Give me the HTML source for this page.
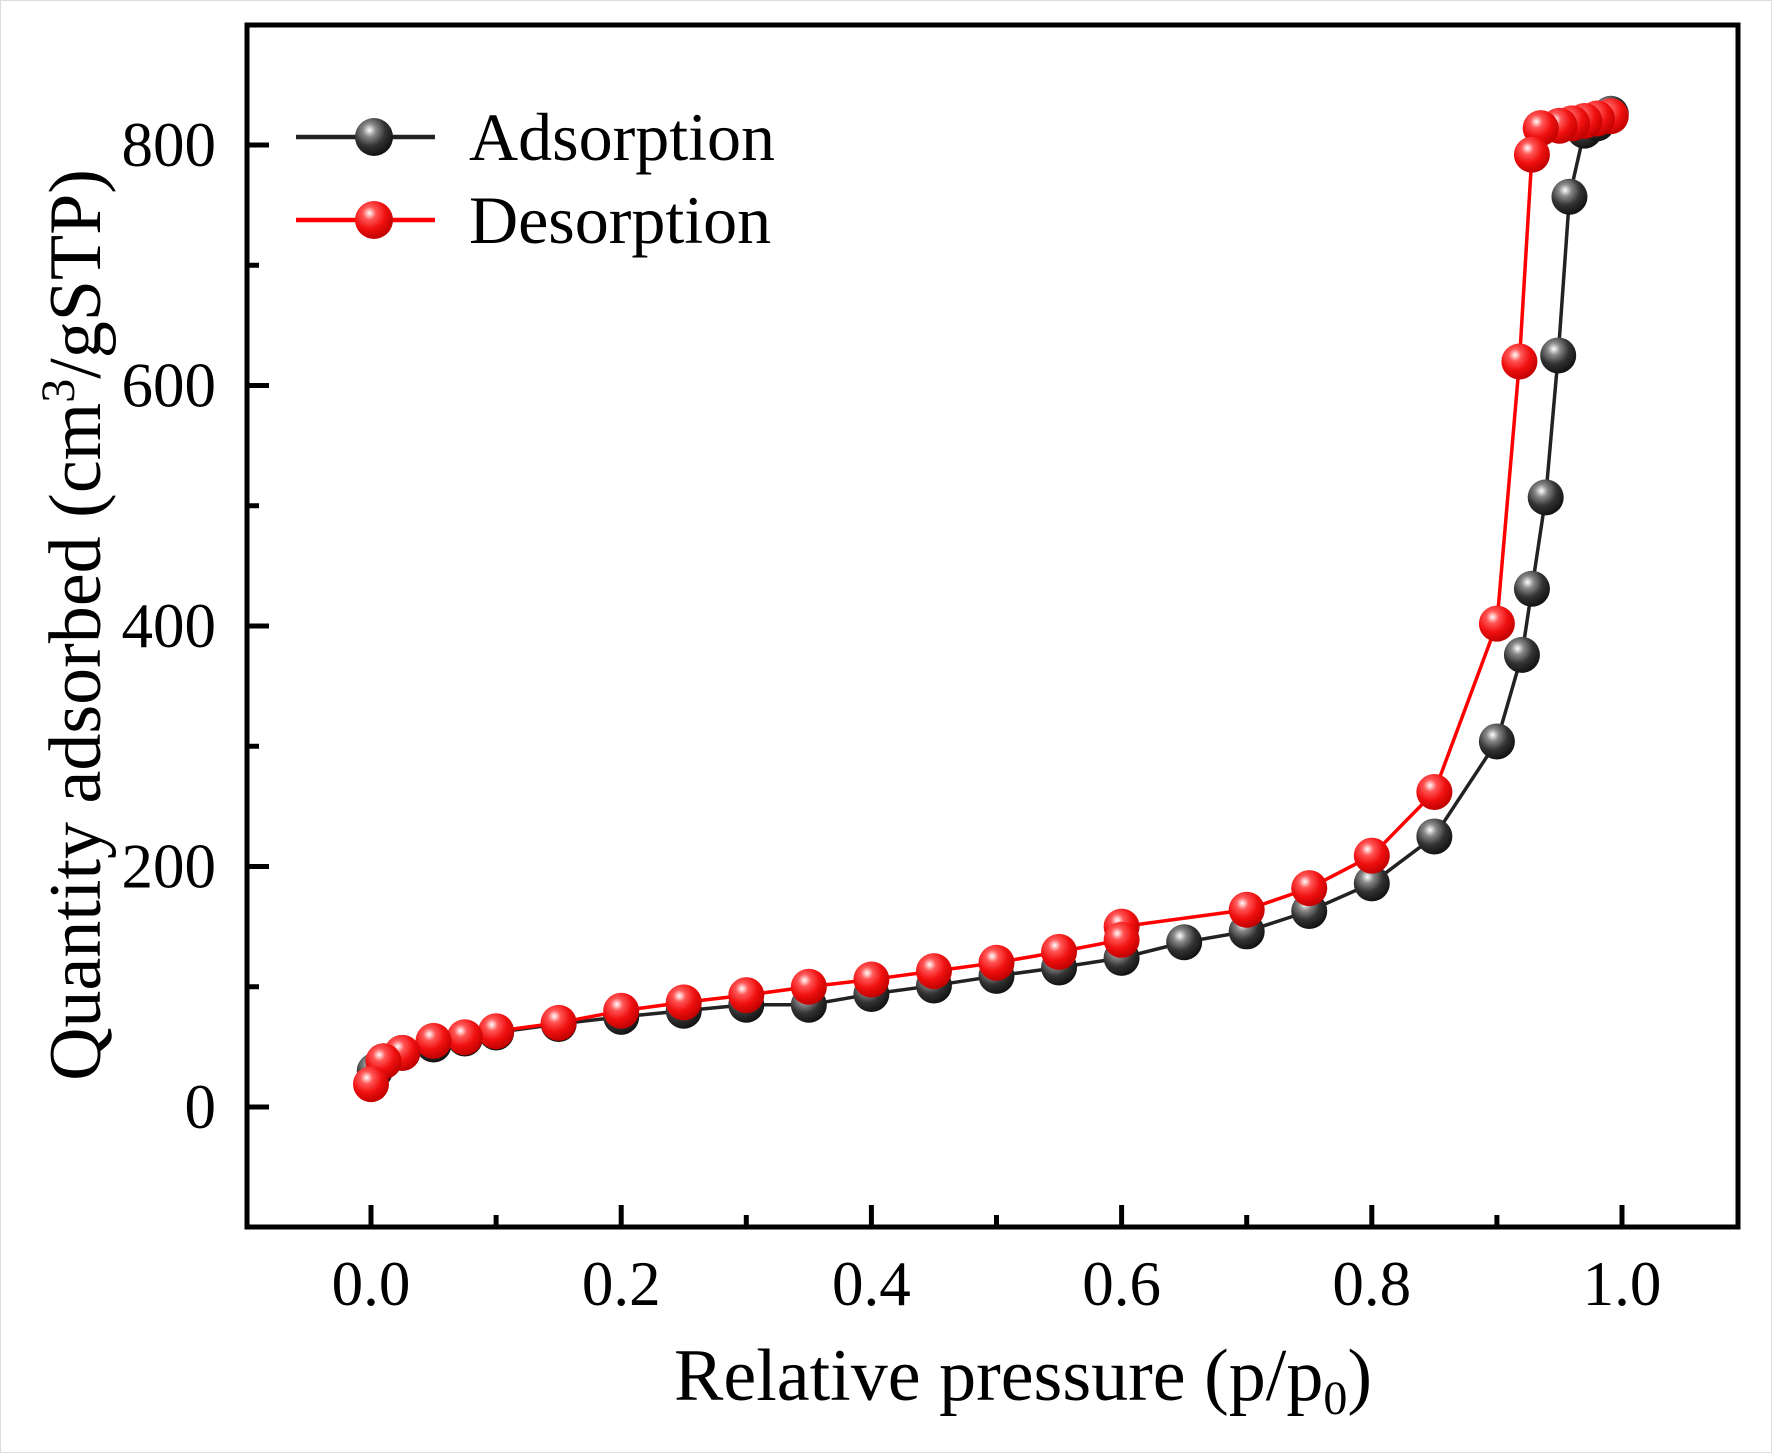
<!DOCTYPE html>
<html><head><meta charset="utf-8">
<style>html,body{margin:0;padding:0;background:#fff}svg{display:block}</style>
</head><body>
<svg id="chart" width="1772" height="1453" viewBox="0 0 1772 1453" xmlns="http://www.w3.org/2000/svg" font-family="'Liberation Serif', serif">
<defs>
<radialGradient id="gBlack" cx="0.38" cy="0.32" r="0.7"><stop offset="0" stop-color="#fff"/><stop offset="0.25" stop-color="#888"/><stop offset="0.6" stop-color="#333"/><stop offset="1" stop-color="#111"/></radialGradient>
<radialGradient id="gRed" cx="0.38" cy="0.32" r="0.7"><stop offset="0" stop-color="#fff"/><stop offset="0.25" stop-color="#ff5555"/><stop offset="0.6" stop-color="#f01010"/><stop offset="1" stop-color="#c00000"/></radialGradient>
</defs>
<rect x="0.5" y="0.5" width="1771" height="1452" fill="#fff" stroke="#ddd"/>
<g id="axes"></g><g id="series"></g><g id="legend"></g>
</svg>
<script>
const adsX=[0.003,0.01,0.025,0.05,0.075,0.1,0.15,0.2,0.25,0.3,0.35,0.4,0.45,0.5,0.55,0.6,0.65,0.7,0.75,0.8,0.85,0.9,0.92,0.928,0.939,0.949,0.958,0.97,0.98,0.991];
const adsY=[30,38,45,52,57,62,69,75,80,85,85,94,101,109,116,124,137,146,163,186,225,304,376,431,507,625,757,812,818,826];
const desX=[0.991,0.98,0.97,0.96,0.95,0.935,0.928,0.918,0.9,0.85,0.8,0.75,0.7,0.6,0.6,0.55,0.5,0.45,0.4,0.35,0.3,0.25,0.2,0.15,0.1,0.075,0.05,0.025,0.01,0.0];
const desY=[824,822,820,818,816,814,792,620,402,262,209,182,164,150,139,129,120,113,106,100,93,87,80,70,63,58,55,45,38,19];
const xTicks=[0.0,0.2,0.4,0.6,0.8,1.0];
const xTickLabels=["0.0","0.2","0.4","0.6","0.8","1.0"];
const yTicks=[0,200,400,600,800];
const yTickLabels=["0","200","400","600","800"];
const xMinor=[-0.1,0.1,0.3,0.5,0.7,0.9,1.1];
const yMinor=[-100,100,300,500,700,900];

const L=247,R=1738,T=25,B=1227;
const sx=v=>371+(v-0)*1251;
const sy=v=>1107-v*1.2025;
const NS="http://www.w3.org/2000/svg";
function mk(tag,attrs,parent){const e=document.createElementNS(NS,tag);for(const k in attrs)e.setAttribute(k,attrs[k]);parent.appendChild(e);return e;}
const axes=document.getElementById('axes'),series=document.getElementById('series'),legend=document.getElementById('legend');

let fr=mk('rect',{x:L,y:T,width:R-L,height:B-T,fill:'none',stroke:'#000','stroke-width':5},axes);


xTicks.forEach((v,i)=>{
  let t=mk('line',{x1:sx(v),x2:sx(v),y1:B,y2:B-22,stroke:'#000','stroke-width':5},axes);
  
  
  let tx=mk('text',{x:sx(v),y:1305,'font-size':63,'text-anchor':'middle'},axes);
  tx.textContent=xTickLabels[i];
  
  
});
xMinor.forEach(v=>{if(sx(v)<L||sx(v)>R)return;
  let t=mk('line',{x1:sx(v),x2:sx(v),y1:B,y2:B-12,stroke:'#000','stroke-width':5},axes);
  
  });
yTicks.forEach((v,i)=>{
  let t=mk('line',{x1:L,x2:L+22,y1:sy(v),y2:sy(v),stroke:'#000','stroke-width':5},axes);
  
  
  let tx=mk('text',{x:216,y:sy(v)+21,'font-size':63,'text-anchor':'end'},axes);
  tx.textContent=yTickLabels[i];
  
  
});
yMinor.forEach(v=>{if(sy(v)<T||sy(v)>B)return;
  let t=mk('line',{x1:L,x2:L+12,y1:sy(v),y2:sy(v),stroke:'#000','stroke-width':5},axes);
  
  });
let xt=mk('text',{x:1023,y:1400,'font-size':74,'text-anchor':'middle'},axes);
xt.innerHTML='Relative pressure (p/p<tspan font-size="48" dy="14">0</tspan><tspan dy="-14">)</tspan>';


let yt=mk('text',{x:0,y:0,'font-size':74,'text-anchor':'middle',transform:'translate(100,625) rotate(-90)'},axes);
yt.innerHTML='Quantity  adsorbed (cm<tspan font-size="48" dy="-26">3</tspan><tspan dy="26">/gSTP)</tspan>';



function drawSeries(xs,ys,color,grad,name){
  const g=mk('g',{},series);
  
  
  const pl=mk('polyline',{points:xs.map((x,i)=>sx(x)+','+sy(ys[i])).join(' '),fill:'none',stroke:color,'stroke-width':3.5},g);
  
  
  xs.forEach((x,i)=>{
    const c=mk('circle',{cx:sx(x),cy:sy(ys[i]),r:18,fill:'url(#'+grad+')'},g);
    
    
  });
}
drawSeries(adsX,adsY,'#222','gBlack','adsorption');
drawSeries(desX,desY,'#ff0000','gRed','desorption');

function legendEntry(y,color,grad,label,name){
  const g=mk('g',{},legend);
  
  
  mk('line',{x1:296,x2:435,y1:y,y2:y,stroke:color,'stroke-width':4.5},g);
  mk('circle',{cx:374,cy:y,r:19,fill:'url(#'+grad+')'},g);
  const t=mk('text',{x:469,y:y+23,'font-size':68},g);
  t.textContent=label;
}
legendEntry(137,'#222','gBlack','Adsorption','adsorption');
legendEntry(220,'#ff0000','gRed','Desorption','desorption');
</script>
</body></html>
